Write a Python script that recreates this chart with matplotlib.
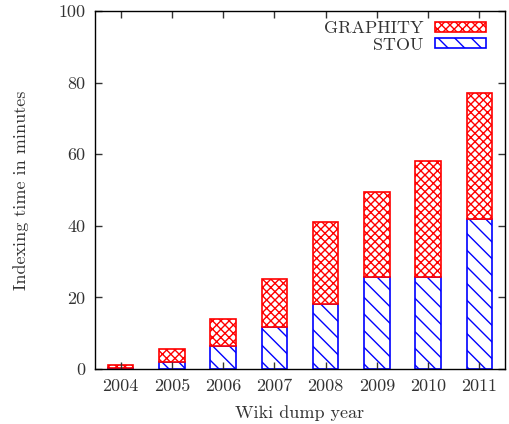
import numpy as np
import matplotlib as mpl
mpl.use("Agg")
import matplotlib.pyplot as plt

years = ["2004", "2005", "2006", "2007", "2008", "2009", "2010", "2011"]
stou = [0.4, 1.9, 6.4, 11.6, 18.2, 25.6, 25.6, 42.0]
total = [1.0, 5.5, 13.9, 25.2, 41.0, 49.5, 58.0, 77.0]
graphity = [t - s for t, s in zip(total, stou)]

mpl.rcParams.update({
    "font.family": "cmr10",
    "axes.unicode_minus": False,
    "font.size": 13,
    "hatch.linewidth": 1.0,
    "axes.linewidth": 1.0,
})

fig = plt.figure(figsize=(5.09, 4.24), dpi=100)
ax = fig.add_axes([95 / 509, 1 - 369 / 424, 410 / 509, 358 / 424])

x = np.arange(len(years))
ax.bar(x, stou, width=0.5, color="white", edgecolor="blue", hatch="\\\\",
       linewidth=1.2, label="STOU")
ax.bar(x, graphity, width=0.5, bottom=stou, color="white", edgecolor="red",
       hatch="xxxx", linewidth=1.2, label="GRAPHITY")

ax.set_xlim(-0.5, 7.5)
ax.set_ylim(0, 100)
ax.set_xticks(x)
ax.set_xticklabels(years)
ax.set_yticks(range(0, 101, 20))
ax.tick_params(direction="in", top=True, right=True, length=5, width=1,
               labelsize=13, colors="#333333", labelcolor="#333333")
ax.tick_params(axis="x", pad=7)
ax.tick_params(axis="y", pad=7)

ax.set_xlabel("Wiki dump year", color="#333333", labelpad=8)
ax.set_ylabel("Indexing time in minutes", color="#333333", labelpad=21)

handles, labels = ax.get_legend_handles_labels()
ax.legend(handles[::-1], labels[::-1], loc="upper right", frameon=False,
          bbox_to_anchor=(1 - 19 / 410, 1 - 10 / 358),
          markerfirst=False, handlelength=2.8, handleheight=0.5,
          borderaxespad=0, borderpad=0, labelspacing=0.05,
          handletextpad=0.65, fontsize=13, labelcolor="#333333")

fig.savefig("out.png", dpi=100)
